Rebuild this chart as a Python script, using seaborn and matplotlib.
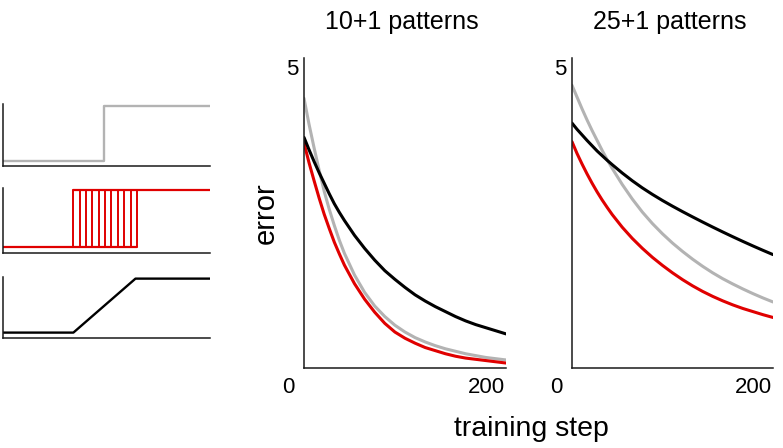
import numpy as np
import pandas as pd
import matplotlib
matplotlib.use("Agg")
import matplotlib.pyplot as plt
import matplotlib.transforms as mtransforms
import seaborn as sns

# --- data ---
steps = [0, 5, 10, 15, 20, 25, 30, 35, 40, 50, 60, 70, 80, 90, 100,
         110, 120, 130, 140, 150, 160, 170, 180, 190, 200]

# 10+1 patterns
err10_step = [4.35, 3.93, 3.55, 3.19, 2.85, 2.56, 2.30, 2.06, 1.85, 1.50, 1.22,
              1.00, 0.83, 0.69, 0.58, 0.49, 0.42, 0.36, 0.31, 0.27, 0.23, 0.20,
              0.17, 0.15, 0.13]
err10_pulse = [3.63, 3.31, 3.02, 2.74, 2.48, 2.25, 2.03, 1.84, 1.66, 1.36, 1.11,
               0.90, 0.72, 0.58, 0.48, 0.40, 0.33, 0.28, 0.23, 0.19, 0.16, 0.14,
               0.12, 0.10, 0.08]
err10_ramp = [3.72, 3.52, 3.33, 3.15, 2.98, 2.81, 2.65, 2.51, 2.38, 2.14, 1.93,
              1.74, 1.57, 1.43, 1.30, 1.18, 1.08, 0.99, 0.91, 0.83, 0.76, 0.70,
              0.65, 0.60, 0.55]

# 25+1 patterns
err25_step = [4.56, 4.37, 4.18, 4.00, 3.83, 3.67, 3.51, 3.36, 3.22, 2.96, 2.725,
              2.515, 2.33, 2.165, 2.015, 1.88, 1.755, 1.64, 1.535, 1.44, 1.355,
              1.275, 1.20, 1.13, 1.065]
err25_pulse = [3.65, 3.46, 3.29, 3.13, 2.98, 2.84, 2.71, 2.59, 2.475, 2.27, 2.09,
               1.93, 1.785, 1.655, 1.535, 1.425, 1.325, 1.235, 1.155, 1.083, 1.018,
               0.96, 0.91, 0.86, 0.815]
err25_ramp = [3.95, 3.85, 3.76, 3.67, 3.585, 3.50, 3.425, 3.35, 3.28, 3.145, 3.02,
              2.905, 2.80, 2.702, 2.61, 2.522, 2.437, 2.354, 2.273, 2.194, 2.117,
              2.042, 1.969, 1.898, 1.829]

# input signals (left column), time 0..100
step_t = [0, 49, 49, 100]
step_v = [0, 0, 1, 1]
pulse_switch = [34.0, 37.1, 40.2, 43.2, 46.3, 49.4, 52.4, 55.5, 58.6, 61.6, 64.7]
ramp_t = [0, 34, 64, 100]
ramp_v = [0, 0, 1, 1]

colors = {"step": "#b3b3b3", "pulse": "#e00000", "ramp": "#000000"}
order = ["step", "pulse", "ramp"]

rows = []
for panel, series in [("10+1 patterns", [err10_step, err10_pulse, err10_ramp]),
                      ("25+1 patterns", [err25_step, err25_pulse, err25_ramp])]:
    for name, vals in zip(order, series):
        for s, v in zip(steps, vals):
            rows.append({"panel": panel, "signal": name, "step": s, "error": v})
df = pd.DataFrame(rows)

# --- style ---
sns.set_style("white")
plt.rcParams["font.family"] = ["Liberation Sans", "DejaVu Sans"]
plt.rcParams["text.color"] = "black"
plt.rcParams["xtick.color"] = "black"
plt.rcParams["ytick.color"] = "black"

W, H = 783, 448
fig = plt.figure(figsize=(W / 100, H / 100), dpi=100)


def box(l, t, r, b):
    return [l / W, 1 - b / H, (r - l) / W, (b - t) / H]


def matlab_axes(ax):
    for side in ["top", "right"]:
        ax.spines[side].set_visible(False)
    for side in ["left", "bottom"]:
        ax.spines[side].set_linewidth(1.1)
        ax.spines[side].set_color("#1a1a1a")
    ax.tick_params(direction="in", length=2.5, width=1, color="#1a1a1a",
                   labelsize=16, pad=4, labelcolor="black")


# --- left column: the three input signals ---
left_boxes = [box(3, 104, 210, 166), box(3, 188, 210, 253), box(3, 277, 210, 338)]
axs_in = [fig.add_axes(b) for b in left_boxes]

sns.lineplot(x=step_t, y=step_v, ax=axs_in[0], color=colors["step"],
             linewidth=1.7, sort=False, estimator=None)

ax = axs_in[1]
ax.plot([0, pulse_switch[-1]], [0, 0], color=colors["pulse"], lw=1.6)
ax.plot([pulse_switch[0], 100], [1, 1], color=colors["pulse"], lw=1.6)
ax.vlines(pulse_switch, 0, 1, color=colors["pulse"], lw=1.4)

sns.lineplot(x=ramp_t, y=ramp_v, ax=axs_in[2], color=colors["ramp"],
             linewidth=1.7, sort=False, estimator=None)

for ax in axs_in:
    matlab_axes(ax)
    ax.set_xlim(0, 100)
    ax.set_ylim(-0.1, 1.03)
    ax.set_xticks([100])
    ax.set_yticks([1.03])
    ax.set_xticklabels([])
    ax.set_yticklabels([])
    ax.set_xlabel("")
    ax.set_ylabel("")

# --- error curves ---
main_boxes = {"10+1 patterns": box(304, 58, 506, 368),
              "25+1 patterns": box(572, 58, 773, 368)}
for panel, b in main_boxes.items():
    ax = fig.add_axes(b)
    sns.lineplot(data=df[df["panel"] == panel], x="step", y="error",
                 hue="signal", hue_order=order, palette=colors,
                 linewidth=2.2, legend=False, ax=ax)
    matlab_axes(ax)
    ax.set_xlim(0, 200)
    ax.set_ylim(0, 5)
    ax.set_xticks([0, 200])
    ax.set_yticks([5])
    ax.set_xlabel("")
    ax.set_ylabel("")
    xl = ax.get_xticklabels()
    xl[0].set_transform(xl[0].get_transform() +
                        mtransforms.ScaledTranslation(-0.16, -0.03, fig.dpi_scale_trans))
    xl[1].set_transform(xl[1].get_transform() +
                        mtransforms.ScaledTranslation(-0.20, -0.03, fig.dpi_scale_trans))
    for lbl in ax.get_yticklabels():
        lbl.set_transform(lbl.get_transform() +
                          mtransforms.ScaledTranslation(0.0, -0.09, fig.dpi_scale_trans))
    cx = (b[0] + b[2] / 2)
    fig.text(cx - 3 / W, 1 - 22 / H, panel, ha="center", va="center", fontsize=18)

fig.text(266 / W, 1 - 213 / H, "error", rotation=90, ha="center", va="center",
         fontsize=21)
fig.text(531 / W, 1 - 429 / H, "training step", ha="center", va="center",
         fontsize=20.5)

fig.savefig("out.png", dpi=100)
